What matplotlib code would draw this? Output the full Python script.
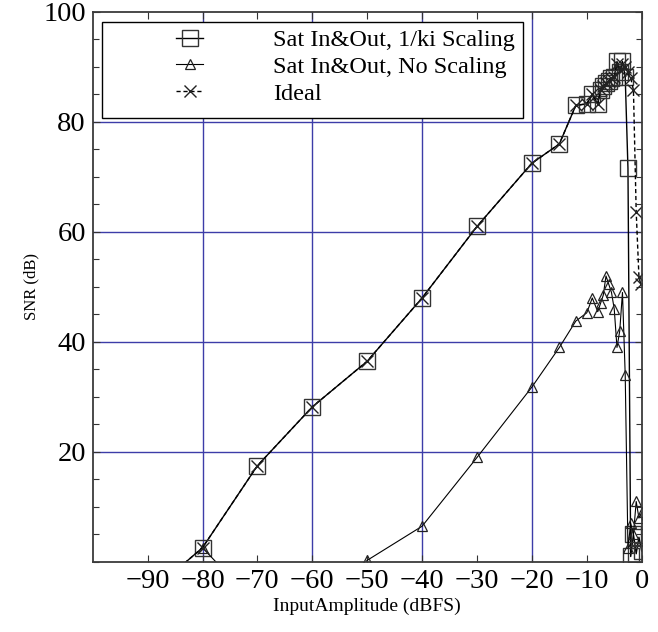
import matplotlib
matplotlib.use('Agg')
import matplotlib.pyplot as plt
from matplotlib.patches import Rectangle
from matplotlib.ticker import MultipleLocator, FixedLocator

plt.rcParams['font.family'] = ['Liberation Serif', 'DejaVu Serif']

# Sat In&Out, 1/ki Scaling (squares)
sc_x = [-90, -80, -70, -60, -50, -40, -30, -20, -15, -12, -10, -9, -8, -7.5, -7, -6.5,
        -6, -5.5, -5, -4.5, -4, -3.5, -3, -2.5, -2, -1.5, -1, -0.5, 0]
sc_y = [-6, 2.6, 17.5, 28.2, 36.5, 48, 61, 72.5, 76, 83, 83.3, 85, 83.3, 85.8, 86.5, 87,
        87.5, 88, 88.2, 91, 89, 91, 88.2, 71.6, 1, 5, 1.5, 4.5, 2]

# Sat In&Out, No Scaling (triangles)
ns_x = [-80, -70, -60, -50, -40, -30, -20, -15, -12, -10, -9, -8, -7.5, -7, -6.5,
        -6, -5.5, -5, -4.5, -4, -3.5, -3, -2.5, -2, -1.5, -1, -0.5, 0]
ns_y = [2.6, -8, -12, 0.3, 6.5, 19, 31.8, 39, 43.8, 45.3, 48, 45.5, 47, 48.5, 52,
        50.5, 49, 46, 39, 42, 49, 34, 2.5, 7, 5, 11, 8, 9]

# Ideal (crosses)
id_x = [-90, -80, -70, -60, -50, -40, -30, -20, -15, -12, -10, -9, -8, -7.5, -7, -6.5,
        -6, -5.5, -5, -4.5, -4, -3.5, -3, -2.5, -2, -1.5, -1, -0.5, -0.2]
id_y = [-6, 2.6, 17.5, 28.2, 36.5, 48, 61, 72.5, 76, 83, 83.3, 85, 83.3, 85.8, 86.5, 87,
        87.5, 88, 88.2, 90.5, 89.5, 90.5, 90, 89, 88, 85.8, 63.7, 51.9, 50.6]

labels = ['Sat In&Out, 1/ki Scaling', 'Sat In&Out, No Scaling', 'Ideal']

fig = plt.figure(figsize=(6.58, 6.32), dpi=100)
ax = fig.add_axes([0.1409, 0.1108, 0.8343, 0.8703])

l1, = ax.plot(sc_x, sc_y, color='black', lw=1.0, marker='s', ms=11,
              mfc='none', mec='#333333', mew=1.0)
l2, = ax.plot(ns_x, ns_y, color='black', lw=0.8, marker='^', ms=7,
              mfc='none', mec='#222222', mew=0.9)
l3, = ax.plot(id_x, id_y, color='black', lw=1.0, ls=(0, (3, 2)), marker='x', ms=9,
              mec='#222222', mew=1.0)

ax.set_xlim(-100, 0)
ax.set_ylim(0, 100)

ax.xaxis.set_major_locator(FixedLocator([-90, -80, -70, -60, -50, -40, -30, -20, -10, 0]))
ax.yaxis.set_major_locator(FixedLocator([20, 40, 60, 80, 100]))
ax.yaxis.set_minor_locator(MultipleLocator(5))
ax.tick_params(which='both', direction='in', top=True, right=True, labelsize=20.5,
               width=0.8, color='#333333', pad=5)
ax.tick_params(which='major', length=5)
ax.tick_params(which='minor', length=4)

for gx in [-80, -60, -40, -20]:
    ax.axvline(gx, color='#3c3ca8', lw=1.0, zorder=0.5)
for gy in [20, 40, 60, 80]:
    ax.axhline(gy, color='#3c3ca8', lw=1.0, zorder=0.5)

for s in ax.spines.values():
    s.set_color('#3a3a3a')
    s.set_linewidth(1.3)

ax.set_xlabel('InputAmplitude (dBFS)', fontsize=14, labelpad=3)
ax.set_ylabel('SNR (dB)', fontsize=12, labelpad=3)

frame = Rectangle((0.017, 0.807), 0.767, 0.175, transform=ax.transAxes,
                  facecolor='white', edgecolor='black', lw=1.0, zorder=3)
ax.add_patch(frame)
leg = ax.legend([l1, l2, l3], labels, loc='upper left', bbox_to_anchor=(0.152, 0.969),
                frameon=False, fontsize=17.5, handlelength=1.1, handletextpad=2.9,
                borderpad=0, borderaxespad=0, labelspacing=0.2, numpoints=1)
leg.set_zorder(4)

plt.savefig('out.png', dpi=100)
